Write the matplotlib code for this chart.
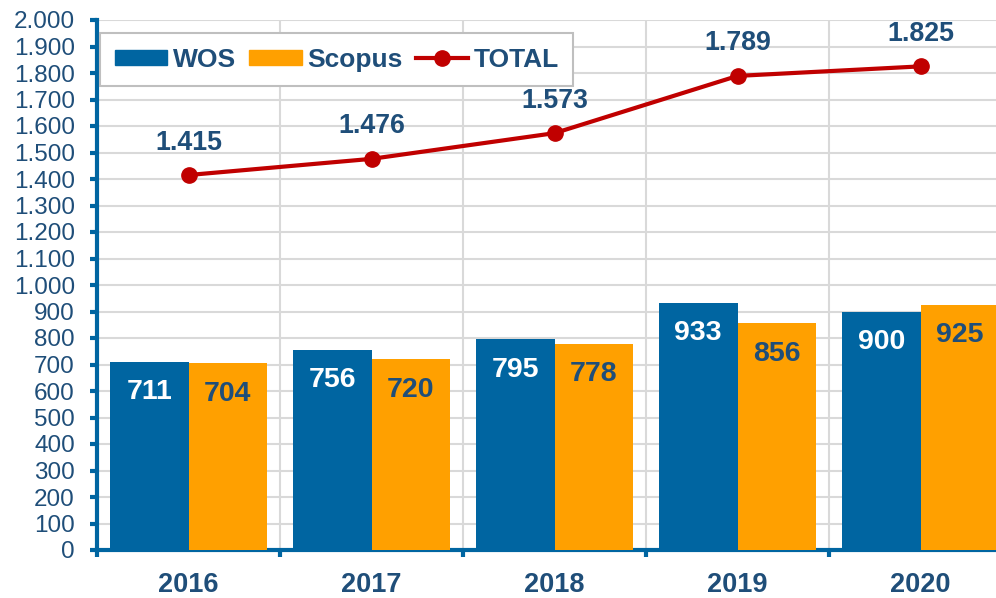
import numpy as np
import matplotlib.pyplot as plt
from matplotlib.ticker import FuncFormatter, FixedLocator, MultipleLocator
from matplotlib.patches import Patch
from matplotlib.lines import Line2D

plt.rcParams['font.family'] = ['Liberation Sans', 'DejaVu Sans']

############### Data ###############
years = ['2016', '2017', '2018', '2019', '2020']
wos = [711, 756, 795, 933, 900]
scopus = [704, 720, 778, 856, 925]
total = [1415, 1476, 1573, 1789, 1825]

c_wos = '#0065A1'
c_scopus = '#FFA000'
c_total = '#C00000'
c_text = '#1F4E79'
c_axis = '#0065A1'


def dotted(v, pos=None):
    return f'{int(v):,}'.replace(',', '.')


############### Figure ###############
fig = plt.figure(figsize=(9.96, 5.98), dpi=100)
# axes runs past the right edge of the figure, like the original
ax = fig.add_axes([97 / 996, 48 / 598, 915 / 996, 530 / 598])

x = np.arange(len(years))
w = 0.43
ax.bar(x - w / 2, wos, w, color=c_wos, zorder=3)
ax.bar(x + w / 2, scopus, w, color=c_scopus, zorder=3)
ax.plot(x, total, color=c_total, lw=3, marker='o', ms=11, zorder=4)

for i in range(len(years)):
    ax.annotate(str(wos[i]), (x[i] - w / 2, wos[i]), xytext=(0, -22), textcoords='offset points',
                ha='center', va='center', color='white', fontsize=20.5, fontweight='bold', zorder=5)
    ax.annotate(str(scopus[i]), (x[i] + w / 2, scopus[i]), xytext=(0, -22), textcoords='offset points',
                ha='center', va='center', color=c_text, fontsize=20.5, fontweight='bold', zorder=5)
    ax.annotate(dotted(total[i]), (x[i], total[i]), xytext=(0, 23.4), textcoords='offset points',
                ha='center', va='center', color=c_text, fontsize=19.3, fontweight='bold', zorder=5)

ax.set_xlim(-0.5, 4.5)
ax.set_ylim(0, 2000)
ax.yaxis.set_major_locator(MultipleLocator(100))
ax.yaxis.set_major_formatter(FuncFormatter(dotted))

ax.xaxis.set_major_locator(FixedLocator(np.arange(-0.5, 5, 1)))
ax.xaxis.set_major_formatter(FuncFormatter(lambda v, p: ''))
ax.set_xticks(x, minor=True)
ax.set_xticklabels(years, minor=True, fontsize=19.5, fontweight='bold', color=c_text)
ax.tick_params(axis='x', which='minor', length=0, pad=16)
ax.tick_params(axis='x', which='major', length=5, width=3, color=c_axis)
ax.tick_params(axis='y', length=5, width=3, color=c_axis, labelsize=17.5, labelcolor=c_text, pad=11)

ax.grid(True, which='major', color='#D9D9D9', lw=1.5, zorder=0)
ax.set_axisbelow(True)

for s in ['top', 'right']:
    ax.spines[s].set_visible(False)
for s in ['left', 'bottom']:
    ax.spines[s].set_color(c_axis)
    ax.spines[s].set_linewidth(3)

handles = [Patch(color=c_wos), Patch(color=c_scopus),
           Line2D([0], [0], color=c_total, lw=3, marker='o', ms=11)]
leg = ax.legend(handles, ['WOS', 'Scopus', 'TOTAL'], ncol=3, loc='upper left',
                bbox_to_anchor=(3 / 915, 1 - 13 / 530), borderaxespad=0, frameon=True, fancybox=False,
                prop={'size': 19, 'weight': 'bold'}, labelcolor=c_text,
                handlelength=2.0, handleheight=0.5, columnspacing=0.5, handletextpad=0.2,
                borderpad=0.55)
leg.get_frame().set_edgecolor('#BFBFBF')
leg.get_frame().set_linewidth(1.5)
leg.get_frame().set_alpha(1)

fig.savefig('out.png', dpi=100)
